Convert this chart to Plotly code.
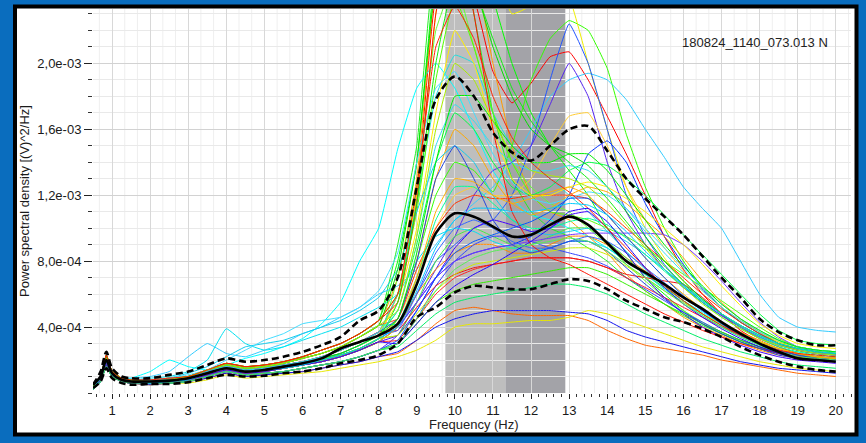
import plotly.graph_objects as go
import numpy as np

# ---------------- data (PSD values in units of 1e-5 (V)^2/Hz) ----------------
freq = [0.5, 0.7, 0.85, 1.0, 1.25, 1.5, 2, 2.5, 3, 3.5, 4, 4.5, 5, 5.5, 6, 6.5, 7, 7.5, 8,
        8.5, 9, 9.5, 10, 10.5, 11, 11.5, 12, 12.5, 13, 13.5, 14, 14.5, 15, 15.5, 16, 16.5,
        17, 17.5, 18, 18.5, 19, 19.5, 20]

psd_mean = [5, 10, 20, 12, 8, 7, 7, 7.5, 9, 12, 15, 13, 14, 16, 18, 21, 27, 31, 35,
            42, 66, 97, 109, 107, 101, 95, 96, 102, 107, 102, 91, 80, 73, 66, 58, 51, 43, 36, 30, 25, 21, 20, 19]
psd_upper = [5, 13, 25, 15, 10, 9, 9, 11, 13, 17, 21, 19, 20, 22, 25, 29, 34, 44, 50,
             70, 125, 178, 192, 180, 158, 146, 141, 150, 160, 162, 147, 130, 118, 107, 96, 83, 70, 58, 45, 37, 32, 29, 29]
psd_lower = [3, 7, 15, 9, 6, 5, 5.5, 5.5, 6.5, 9, 11, 10, 10.5, 12, 13, 15, 18, 20, 23,
             30, 46, 52, 61, 65, 64, 63, 63, 66, 69, 68, 63, 56, 51, 46, 43, 39, 34, 28, 23, 19, 16, 14, 13]

c01 = [4, 9, 20, 12, 8, 7, 7, 8, 9, 13, 16, 14, 15, 17, 19, 22, 26, 31, 37,
       60, 120, 240, 260, 240, 195, 176, 188, 204, 207, 190, 168, 145, 120, 95, 75, 60, 48, 38, 31, 26, 23, 22, 21]
c02 = [5, 10, 23, 13, 9, 8, 8, 9, 10, 14, 18, 16, 17, 19, 22, 26, 30, 36, 44,
       80, 140, 260, 320, 290, 240, 200, 170, 150, 135, 120, 100, 85, 70, 60, 50, 42, 36, 31, 27, 24, 22, 21, 20]
c03 = [3, 8, 18, 11, 7, 6, 6, 7, 8, 11, 14, 12, 13, 15, 17, 19, 22, 26, 31,
       45, 80, 120, 140, 135, 122, 150, 190, 215, 226, 220, 197, 157, 125, 100, 80, 64, 52, 43, 36, 31, 28, 26, 25]
c04 = [4, 8, 21, 13, 9, 8, 7, 8, 10, 14, 17, 15, 16, 18, 21, 24, 28, 34, 41,
       70, 130, 250, 300, 260, 200, 150, 120, 110, 105, 95, 85, 72, 62, 54, 46, 40, 35, 30, 26, 23, 21, 20, 19]
c05 = [4, 10, 22, 12, 8, 7, 7, 7, 9, 12, 15, 13, 14, 16, 18, 21, 24, 29, 35,
       60, 120, 230, 310, 300, 260, 230, 235, 250, 240, 200, 160, 125, 100, 82, 68, 57, 48, 40, 34, 29, 26, 24, 23]
c06 = [5, 10, 23, 13, 9, 8, 8, 9, 10, 14, 18, 16, 17, 19, 22, 26, 30, 36, 44,
       90, 150, 270, 300, 230, 170, 130, 110, 100, 95, 88, 80, 70, 62, 54, 47, 41, 36, 31, 27, 24, 22, 21, 20]
c07 = [3, 9, 19, 11, 8, 7, 6, 7, 8, 12, 15, 13, 14, 15, 17, 20, 23, 27, 33,
       70, 125, 220, 250, 210, 170, 140, 125, 115, 110, 100, 90, 78, 68, 58, 50, 43, 37, 32, 28, 25, 23, 22, 21]
c08 = [4, 9, 19, 12, 9, 9, 13, 20, 16, 14, 17, 21, 24, 28, 33, 42, 55, 80, 100,
       148, 185, 200, 185, 160, 135, 118, 108, 105, 100, 95, 88, 80, 72, 64, 56, 49, 42, 36, 31, 27, 25, 24, 23]
c09 = [4, 9, 20, 12, 8, 7, 7, 8, 9, 13, 16, 14, 15, 17, 19, 22, 26, 31, 37,
       60, 115, 180, 205, 200, 170, 150, 140, 130, 120, 110, 98, 86, 75, 65, 56, 48, 41, 35, 30, 26, 23, 22, 21]
c10 = [4, 9, 20, 12, 9, 9, 10, 13, 22, 30, 24, 22, 26, 30, 36, 40, 46, 52, 60,
       65, 75, 90, 105, 115, 125, 140, 160, 180, 190, 194, 190, 178, 160, 143, 125, 112, 100, 80, 60, 46, 40, 38, 37]
c11 = [3, 8, 18, 11, 7, 6, 6, 7, 8, 11, 14, 12, 13, 15, 17, 19, 22, 26, 31,
       40, 60, 80, 90, 100, 105, 120, 150, 190, 224, 200, 160, 120, 95, 78, 65, 55, 47, 40, 34, 29, 26, 24, 23]
c12 = [2, 7, 16, 10, 7, 6, 6, 6, 7, 10, 13, 11, 12, 13, 15, 17, 19, 22, 26,
       35, 55, 75, 95, 120, 135, 140, 150, 175, 200, 180, 140, 110, 90, 75, 64, 55, 47, 40, 34, 29, 26, 24, 23]
c13 = [3, 9, 19, 11, 8, 7, 6, 7, 8, 12, 15, 13, 14, 15, 17, 20, 23, 27, 33,
       40, 55, 70, 80, 85, 88, 90, 95, 105, 120, 145, 153, 140, 115, 95, 78, 63, 52, 43, 36, 30, 26, 24, 23]
c14 = [4, 10, 22, 12, 8, 7, 7, 7, 9, 12, 15, 13, 14, 16, 18, 21, 24, 29, 35,
       45, 70, 100, 120, 125, 120, 120, 130, 150, 168, 170, 150, 125, 105, 88, 74, 62, 52, 44, 37, 31, 27, 25, 24]
c15 = [3, 8, 18, 11, 7, 6, 6, 7, 8, 11, 14, 12, 13, 15, 17, 19, 22, 26, 31,
       40, 60, 75, 85, 90, 90, 85, 85, 90, 95, 95, 90, 82, 74, 66, 58, 50, 43, 37, 32, 27, 24, 22, 21]
c16 = [3, 9, 19, 11, 8, 7, 6, 7, 8, 12, 15, 13, 14, 15, 17, 20, 23, 27, 33,
       35, 55, 80, 95, 100, 95, 90, 90, 95, 100, 100, 92, 82, 72, 64, 56, 48, 41, 35, 30, 26, 23, 22, 21]
c17 = [2, 7, 16, 10, 7, 6, 6, 6, 7, 10, 13, 11, 12, 13, 15, 17, 19, 22, 26,
       30, 45, 65, 80, 90, 95, 95, 92, 88, 85, 82, 77, 70, 63, 56, 49, 43, 37, 32, 28, 24, 22, 20, 19]
c18 = [3, 8, 18, 11, 7, 6, 6, 7, 8, 11, 14, 12, 13, 15, 17, 19, 22, 26, 31,
       32, 45, 60, 70, 75, 78, 80, 82, 82, 82, 80, 76, 70, 64, 58, 52, 46, 40, 35, 30, 26, 23, 21, 20]
c19 = [3, 7, 17, 10, 7, 6, 5, 6, 7, 9, 12, 10, 11, 12, 13, 15, 17, 19, 22,
       24, 32, 42, 50, 52, 50, 48, 47, 47, 47, 44, 38, 33, 29, 27, 25, 23, 20, 18, 16, 14, 12, 11, 10]
c20 = [3, 7, 16, 10, 7, 6, 5, 6, 6, 8, 11, 9, 10, 11, 12, 13, 15, 17, 19,
       22, 26, 32, 40, 42, 42, 43, 44, 44, 46, 50, 48, 44, 40, 36, 32, 28, 25, 22, 19, 17, 15, 14, 13]
c21 = [3, 7, 17, 10, 7, 6, 5, 6, 7, 9, 12, 10, 11, 12, 13, 15, 17, 19, 22,
       25, 32, 40, 45, 48, 50, 50, 50, 50, 49, 48, 44, 38, 34, 31, 28, 25, 22, 19, 17, 15, 14, 13, 12]
c22 = [2, 7, 16, 10, 7, 6, 6, 6, 7, 10, 13, 11, 12, 13, 15, 17, 19, 22, 26,
       28, 38, 48, 55, 58, 60, 62, 64, 66, 66, 64, 60, 54, 48, 43, 38, 33, 29, 25, 22, 19, 17, 16, 15]
c23 = [4, 9, 20, 12, 9, 8, 9, 10, 13, 20, 39, 30, 26, 28, 32, 36, 40, 46, 52,
       60, 80, 95, 100, 98, 92, 88, 86, 88, 92, 92, 88, 80, 72, 63, 55, 47, 40, 34, 29, 25, 22, 21, 20]
c24 = [4, 9, 20, 12, 8, 7, 7, 8, 9, 13, 16, 14, 15, 17, 19, 22, 26, 31, 37,
       38, 52, 65, 72, 76, 78, 80, 82, 82, 82, 80, 76, 72, 70, 68, 66, 58, 48, 40, 33, 28, 24, 22, 21]
c25 = [4, 8, 21, 13, 9, 8, 7, 8, 10, 14, 17, 15, 16, 18, 21, 24, 28, 34, 41,
       45, 75, 100, 115, 120, 118, 118, 120, 120, 120, 118, 110, 100, 90, 80, 70, 60, 51, 43, 36, 30, 26, 24, 23]
c26 = [3, 8, 18, 11, 7, 6, 6, 7, 8, 11, 14, 12, 13, 15, 17, 19, 22, 26, 31,
       40, 55, 70, 80, 85, 88, 90, 92, 94, 96, 97, 97, 97, 97, 96, 90, 80, 68, 55, 43, 34, 28, 25, 24]
c27 = [4, 10, 22, 12, 8, 7, 7, 7, 9, 12, 15, 13, 14, 16, 18, 21, 24, 29, 35,
       50, 90, 140, 170, 160, 140, 125, 120, 125, 135, 140, 138, 130, 120, 108, 96, 84, 72, 60, 48, 38, 32, 30, 29]
c28 = [5, 10, 23, 13, 9, 8, 8, 9, 10, 14, 18, 16, 17, 19, 22, 26, 30, 36, 44,
       60, 110, 190, 240, 210, 170, 140, 120, 110, 108, 105, 100, 95, 88, 80, 72, 64, 56, 48, 40, 33, 28, 26, 25]
c29 = [4, 9, 20, 12, 8, 7, 7, 8, 9, 13, 16, 14, 15, 17, 19, 22, 26, 31, 37,
       55, 100, 170, 220, 200, 160, 130, 120, 120, 125, 128, 125, 118, 110, 100, 90, 78, 65, 53, 42, 35, 30, 28, 27]
c30 = [3, 9, 19, 11, 8, 7, 6, 7, 8, 12, 15, 13, 14, 15, 17, 20, 23, 27, 33,
       45, 80, 130, 160, 150, 130, 115, 108, 112, 120, 125, 122, 115, 105, 95, 82, 68, 55, 45, 37, 32, 28, 26, 25]
c31 = [4, 10, 22, 12, 8, 7, 7, 7, 9, 12, 15, 13, 14, 16, 18, 21, 24, 29, 35,
       38, 60, 85, 100, 105, 100, 92, 88, 88, 92, 95, 92, 85, 76, 67, 58, 50, 42, 35, 29, 25, 22, 20, 19]
c32 = [4, 9, 20, 12, 9, 8, 8, 9, 12, 16, 22, 28, 30, 32, 36, 40, 44, 50, 58,
       75, 110, 140, 150, 140, 120, 105, 98, 96, 98, 100, 98, 92, 84, 75, 66, 57, 48, 40, 34, 29, 26, 24, 23]
c33 = [4, 8, 21, 13, 9, 8, 7, 8, 10, 14, 17, 15, 16, 18, 21, 24, 28, 34, 41,
       42, 70, 105, 125, 125, 115, 105, 100, 100, 104, 106, 102, 94, 84, 74, 64, 55, 46, 39, 33, 28, 25, 23, 22]
c34 = [3, 8, 18, 11, 7, 6, 6, 7, 8, 11, 14, 12, 13, 15, 17, 19, 22, 26, 31,
       35, 50, 70, 88, 100, 105, 102, 98, 100, 108, 110, 100, 85, 70, 58, 48, 40, 34, 29, 25, 22, 20, 19, 18]
c35 = [2, 7, 16, 10, 7, 6, 6, 6, 7, 10, 13, 11, 12, 13, 15, 17, 19, 22, 26,
       30, 42, 55, 62, 66, 68, 70, 72, 74, 76, 76, 72, 66, 60, 54, 48, 42, 37, 32, 28, 24, 21, 20, 19]
c36 = [3, 9, 19, 11, 8, 7, 6, 7, 8, 12, 15, 13, 14, 15, 17, 20, 23, 27, 33,
       35, 48, 62, 72, 78, 80, 82, 84, 86, 88, 88, 84, 77, 70, 62, 55, 48, 42, 36, 31, 27, 24, 22, 21]
c37 = [5, 10, 23, 13, 9, 8, 8, 9, 10, 14, 18, 16, 17, 19, 22, 26, 30, 36, 44,
       55, 115, 230, 280, 230, 160, 110, 90, 82, 78, 72, 66, 60, 54, 48, 43, 38, 34, 30, 27, 24, 22, 21, 20]
c38 = [4, 8, 21, 13, 9, 8, 7, 8, 10, 14, 17, 15, 16, 18, 21, 24, 28, 34, 41,
       75, 140, 250, 290, 250, 210, 180, 160, 150, 145, 138, 125, 110, 95, 80, 68, 57, 48, 41, 35, 30, 27, 25, 24]
c39 = [4, 9, 21, 12, 9, 8, 8, 9, 11, 14, 20, 26, 32, 36, 42, 44, 46, 52, 62,
       85, 140, 185, 195, 170, 145, 128, 118, 115, 118, 122, 120, 112, 100, 88, 76, 64, 54, 45, 38, 32, 28, 26, 25]
c40 = [4, 9, 20, 12, 8, 7, 7, 8, 9, 13, 16, 14, 15, 17, 19, 22, 26, 31, 37,
       45, 80, 130, 150, 130, 105, 90, 85, 88, 92, 92, 86, 76, 66, 57, 49, 42, 36, 31, 27, 23, 21, 20, 19]
c41 = [3, 9, 19, 11, 8, 7, 6, 7, 8, 12, 15, 13, 14, 15, 17, 20, 23, 27, 33,
       55, 115, 200, 250, 245, 215, 185, 165, 150, 140, 130, 118, 104, 90, 77, 66, 56, 48, 41, 35, 30, 27, 25, 24]
c42 = [4, 9, 20, 12, 8, 7, 7, 8, 9, 13, 16, 14, 15, 17, 19, 22, 26, 31, 37,
       50, 95, 150, 175, 165, 150, 140, 135, 135, 138, 135, 125, 112, 98, 85, 73, 62, 52, 44, 37, 32, 28, 26, 25]
c43 = [3, 8, 18, 11, 7, 6, 6, 7, 8, 11, 14, 12, 13, 15, 17, 19, 22, 26, 31,
       40, 70, 110, 130, 128, 120, 115, 118, 122, 125, 120, 108, 95, 82, 70, 60, 51, 43, 36, 31, 27, 24, 22, 21]
c44 = [2, 7, 16, 10, 7, 6, 6, 6, 7, 10, 13, 11, 12, 13, 15, 17, 19, 22, 26,
       32, 50, 70, 85, 92, 96, 100, 104, 110, 118, 118, 108, 95, 82, 70, 59, 50, 42, 35, 30, 26, 23, 21, 20]
c45 = [4, 10, 22, 12, 8, 7, 7, 7, 9, 12, 15, 13, 14, 16, 18, 21, 24, 29, 35,
       45, 85, 140, 180, 180, 165, 150, 140, 140, 145, 145, 135, 120, 105, 90, 77, 65, 54, 45, 38, 32, 28, 26, 25]
c46 = [4, 8, 21, 13, 9, 8, 7, 8, 10, 14, 17, 15, 16, 18, 21, 24, 28, 34, 41,
       50, 95, 160, 200, 190, 165, 145, 135, 132, 130, 125, 115, 102, 88, 75, 64, 54, 46, 39, 33, 29, 26, 24, 23]
c47 = [5, 10, 23, 13, 9, 8, 8, 9, 10, 14, 18, 16, 17, 19, 22, 26, 30, 36, 44,
       60, 125, 210, 235, 215, 180, 155, 140, 130, 122, 112, 100, 88, 76, 65, 56, 48, 41, 35, 30, 26, 24, 23, 22]
c48 = [3, 8, 18, 11, 7, 6, 6, 7, 8, 11, 14, 12, 13, 15, 17, 19, 22, 26, 31,
       30, 42, 55, 65, 72, 78, 85, 92, 100, 110, 112, 104, 90, 76, 64, 54, 46, 39, 33, 28, 24, 21, 20, 19]
c49 = [2, 7, 16, 10, 7, 6, 6, 6, 7, 10, 13, 11, 12, 13, 15, 17, 19, 22, 26,
       30, 45, 62, 75, 82, 86, 88, 90, 92, 94, 92, 86, 78, 70, 62, 54, 47, 40, 34, 29, 25, 22, 21, 20]
c50 = [3, 9, 19, 11, 8, 7, 6, 7, 8, 12, 15, 13, 14, 15, 17, 20, 23, 27, 33,
       40, 62, 88, 105, 112, 112, 110, 110, 112, 115, 114, 108, 98, 86, 75, 65, 56, 48, 41, 35, 30, 27, 25, 24]

curve_colors = ["#FF0000", "#00FF00", "#33FF00", "#FF9900", "#EEEE00", "#22EE22", "#66FF33", "#00FFFF",
                "#22DDDD", "#33CCFF", "#2255FF", "#5522EE", "#0033FF", "#FFCC33", "#FF8800", "#44EE44",
                "#3344FF", "#FF2222", "#FF6600", "#E8E800", "#1111EE", "#00EE66", "#00E0F0", "#EE1111",
                "#FF3300", "#7733FF", "#00FF44", "#55FF00", "#FFEE00", "#FFAA00", "#3366FF", "#11CCEE",
                "#00FF99", "#4400FF", "#33EE00", "#CCEE00", "#FF1100", "#00DD00", "#44DDFF", "#2244DD",
                "#11EE11", "#33DDEE", "#FFB000", "#0055FF", "#00EE00", "#AAEE00", "#FF2200", "#2200FF",
                "#55EE55", "#00CCFF"]

alpha_low_band = [9.75, 11.33]
alpha_high_band = [11.33, 12.9]

y_tick_vals = [4e-4, 8e-4, 1.2e-3, 1.6e-3, 2.0e-3]
y_tick_text = ["4,0e-04", "8,0e-04", "1,2e-03", "1,6e-03", "2,0e-03"]
x_title = "Frequency (Hz)"
y_title = "Power spectral density [(V)^2/Hz]"
file_label = "180824_1140_073.013 N"

curves = [c01, c02, c03, c04, c05, c06, c07, c08, c09, c10, c11, c12, c13, c14, c15, c16, c17, c18, c19, c20,
          c21, c22, c23, c24, c25, c26, c27, c28, c29, c30, c31, c32, c33, c34, c35, c36, c37, c38, c39, c40,
          c41, c42, c43, c44, c45, c46, c47, c48, c49, c50]

SCALE = 1e-5
X_RANGE = [0.5, 20.4]
Y_RANGE = [0, 2.33e-3]

# ---------------- figure ----------------
W, H = 866, 443
ML, MR, MT, MB = 93, 15, 9, 50
PW, PH = W - ML - MR, H - MT - MB

def px_x(px):
    return (px - ML) / PW

def px_y(py):
    return (H - MB - py) / PH

fig = go.Figure()

for vals, col in zip(curves, curve_colors):
    fig.add_trace(go.Scatter(x=freq, y=np.array(vals) * SCALE, mode="lines",
                             line=dict(color=col, width=1, shape="spline", smoothing=0.35),
                             hoverinfo="skip", showlegend=False))

for vals in (psd_upper, psd_lower):
    fig.add_trace(go.Scatter(x=freq, y=np.array(vals) * SCALE, mode="lines",
                             line=dict(color="black", width=2.6, dash="7px,4px", shape="spline", smoothing=0.8),
                             hoverinfo="skip", showlegend=False))
fig.add_trace(go.Scatter(x=freq, y=np.array(psd_mean) * SCALE, mode="lines",
                         line=dict(color="black", width=2.6, shape="spline", smoothing=0.8),
                         hoverinfo="skip", showlegend=False))

shapes = []
# white panel with black frame
shapes.append(dict(type="rect", xref="paper", yref="paper",
                   x0=px_x(15), x1=px_x(856.5), y0=px_y(434.5), y1=px_y(6.5),
                   fillcolor="white", line=dict(color="black", width=4), layer="below"))
# minor vertical grid every 1/3 Hz
for k in range(2, 62):
    if k % 3 != 0:
        xv = k / 3
        if X_RANGE[0] < xv < X_RANGE[1]:
            shapes.append(dict(type="line", xref="x", yref="paper", x0=xv, x1=xv, y0=0, y1=1,
                               line=dict(color="#EFEFEF", width=1), layer="below"))
# alpha bands
shapes.append(dict(type="rect", xref="x", yref="paper", x0=alpha_low_band[0], x1=alpha_low_band[1],
                   y0=0, y1=1, fillcolor="#BEBEBE", line=dict(width=0), layer="between"))
shapes.append(dict(type="rect", xref="x", yref="paper", x0=alpha_high_band[0], x1=alpha_high_band[1],
                   y0=0, y1=1, fillcolor="#A3A3A8", line=dict(width=0), layer="between"))

font_family = "Liberation Sans, Arial, sans-serif"

fig.update_layout(
    width=W, height=H, autosize=False,
    margin=dict(l=ML, r=MR, t=MT, b=MB, pad=0),
    paper_bgcolor="#0A6DBE", plot_bgcolor="rgba(0,0,0,0)",
    font=dict(family=font_family, size=13, color="#1A1A1A"),
    shapes=shapes,
    annotations=[
        dict(text=file_label, xref="paper", yref="paper", x=px_x(680), y=px_y(42),
             xanchor="left", yanchor="middle", showarrow=False,
             font=dict(size=13, color="#222222", family=font_family)),
        dict(text=x_title, xref="paper", yref="paper", x=px_x(474), y=px_y(424),
             xanchor="center", yanchor="middle", showarrow=False,
             font=dict(size=13, color="#222222", family=font_family)),
    ],
    xaxis=dict(range=X_RANGE, tick0=0, dtick=1, ticks="outside", ticklen=5, tickwidth=1,
               tickcolor="#222222", showgrid=True, gridcolor="#D8D8D8", gridwidth=1,
               zeroline=False, showline=False, tickfont=dict(size=13),
               minor=dict(tick0=0, dtick=0.2, ticks="outside", ticklen=3, tickcolor="#333333",
                          showgrid=False)),
    yaxis=dict(range=Y_RANGE, tickmode="array", tickvals=y_tick_vals, ticktext=y_tick_text,
               ticks="outside", ticklen=8, tickwidth=1, tickcolor="#222222",
               showgrid=True, gridcolor="#D2D2D2", gridwidth=1, zeroline=False, showline=False,
               tickfont=dict(size=13),
               minor=dict(tickmode="linear", tick0=0, dtick=1e-4, ticks="outside", ticklen=4,
                          tickcolor="#333333", showgrid=True, gridcolor="#E9E9E9"),
               title=dict(text=y_title, font=dict(size=13), standoff=4)),
)

fig.write_html("out.html")
